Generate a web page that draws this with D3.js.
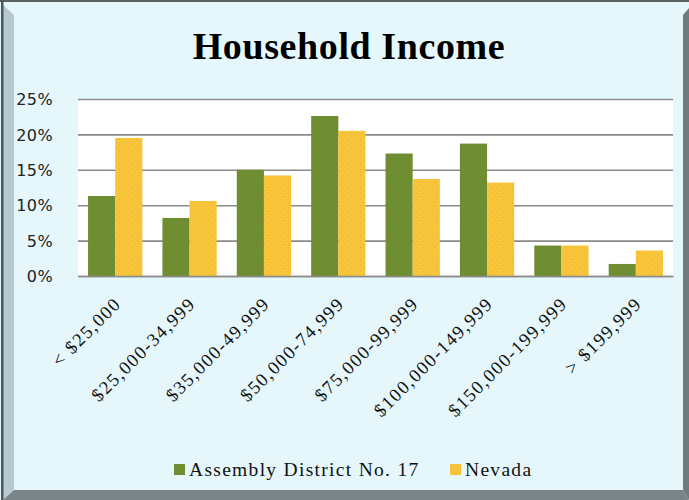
<!DOCTYPE html>
<html>
<head>
<meta charset="utf-8">
<script src="https://cdn.jsdelivr.net/npm/d3@7"></script>
<style>
  html, body { margin: 0; padding: 0; background: #fff; }
  svg { display: block; }
</style>
</head>
<body>
<script>
// household income chart
const W = 689, H = 500;

const categories = ["< $25,000", "$25,000-34,999", "$35,000-49,999", "$50,000-74,999",
                    "$75,000-99,999", "$100,000-149,999", "$150,000-199,999", "> $199,999"];
const seriesNames = ["Assembly District No. 17", "Nevada"];
const district = [11.3, 8.2, 15.0, 22.6, 17.3, 18.7, 4.3, 1.7];
const nevada   = [19.5, 10.6, 14.2, 20.5, 13.7, 13.2, 4.3, 3.6];
const yTicks = [0, 5, 10, 15, 20, 25];

const colors = ["#6d8f31", "#f7c43a"];
const dotColors = ["#9a6a3a", "#d9a23a"];

const plot = { left: 78, right: 673, top: 99, bottom: 276 };

const svg = d3.select("body").append("svg")
    .attr("width", W)
    .attr("height", H);

// patterns to mimic the dithered fills
const defs = svg.append("defs");
colors.forEach((c, i) => {
    const p = defs.append("pattern")
        .attr("id", "pat" + i)
        .attr("width", 6).attr("height", 6)
        .attr("patternUnits", "userSpaceOnUse");
    p.append("rect").attr("width", 6).attr("height", 6).attr("fill", c);
    p.append("rect").attr("x", 1).attr("y", 1).attr("width", 1).attr("height", 1)
        .attr("fill", dotColors[i]).attr("opacity", 0.6);
    p.append("rect").attr("x", 4).attr("y", 4).attr("width", 1).attr("height", 1)
        .attr("fill", dotColors[i]).attr("opacity", 0.5);
});

// ── Frame ──────────────────────────────────────────────────────────────────
svg.append("rect").attr("width", W).attr("height", H).attr("fill", "#e6f7fc");
svg.append("polygon").attr("points", "3,5 14,15 14,490 3,500").attr("fill", "#b6c9d1");
svg.append("polygon").attr("points", "689,8 683,15 683,490 689,500").attr("fill", "#6f7a7d");
svg.append("polygon").attr("points", "3,500 14,490 683,490 689,500").attr("fill", "#798487");
svg.append("rect").attr("x", 0).attr("y", 0).attr("width", W).attr("height", 2).attr("fill", "#59625f");
svg.append("rect").attr("x", 1).attr("y", 0).attr("width", 2.5).attr("height", H).attr("fill", "#4f5759");

// title
svg.append("text")
    .attr("x", 349).attr("y", 59)
    .attr("text-anchor", "middle")
    .attr("font-family", "'Liberation Serif', 'Times New Roman', serif")
    .attr("font-weight", "bold")
    .attr("font-size", 38)
    .attr("letter-spacing", 0.6)
    .attr("fill", "#000")
    .text("Household Income");

// plot area
svg.append("rect")
    .attr("x", plot.left).attr("y", plot.top)
    .attr("width", plot.right - plot.left).attr("height", plot.bottom - plot.top)
    .attr("fill", "#fff");

// ── Scales ─────────────────────────────────────────────────────────────────
const x = d3.scaleBand()
    .domain(categories)
    .range([plot.left, plot.right])
    .paddingInner(0.27)
    .paddingOuter(0.135);

const x1 = d3.scaleBand()
    .domain(seriesNames)
    .range([0, x.bandwidth()]);

const y = d3.scaleLinear()
    .domain([0, 25])
    .range([plot.bottom, plot.top]);

// y axis + gridlines
const yAxis = svg.append("g")
    .attr("transform", `translate(${plot.left},0)`)
    .call(d3.axisLeft(y).tickValues(yTicks).tickSize(-(plot.right - plot.left)).tickPadding(25)
        .tickFormat(d => d + "%"));
yAxis.select(".domain").remove();
yAxis.selectAll(".tick line").attr("stroke", "#8a8a8a").attr("stroke-width", 1.6);
yAxis.selectAll(".tick text")
    .attr("font-family", "'DejaVu Sans', Verdana, sans-serif")
    .attr("font-size", 16)
    .attr("letter-spacing", 0.4)
    .attr("fill", "#222")
    .attr("dy", "0.36em");

// bars
const rows = categories.map((c, i) => ({ cat: c, vals: [district[i], nevada[i]] }));
const groups = svg.append("g").selectAll("g")
    .data(rows)
    .join("g")
    .attr("transform", d => `translate(${x(d.cat)},0)`);

groups.selectAll("rect")
    .data(d => d.vals.map((v, i) => ({ name: seriesNames[i], v, i })))
    .join("rect")
    .attr("x", d => x1(d.name))
    .attr("y", d => y(d.v))
    .attr("width", x1.bandwidth())
    .attr("height", d => y(0) - y(d.v))
    .attr("fill", d => `url(#pat${d.i})`);

// x axis
const xAxis = svg.append("g")
    .attr("transform", `translate(0,${plot.bottom})`)
    .call(d3.axisBottom(x).tickSize(0));
xAxis.select(".domain").attr("stroke", "#8a8a8a").attr("stroke-width", 1.6);
xAxis.selectAll(".tick text")
    .attr("x", 0).attr("y", 0).attr("dy", 0)
    .attr("text-anchor", "end")
    .attr("transform", "translate(7,29) rotate(-45)")
    .attr("font-family", "'Liberation Serif', 'Times New Roman', serif")
    .attr("font-size", 18.5)
    .attr("letter-spacing", 1.5)
    .attr("fill", "#111");

// legend
const legendX = [174, 450];
const legend = svg.append("g").selectAll("g")
    .data(seriesNames)
    .join("g")
    .attr("transform", (d, i) => `translate(${legendX[i]},464)`);
legend.append("rect")
    .attr("width", 11).attr("height", 11)
    .attr("fill", (d, i) => `url(#pat${i})`);
legend.append("text")
    .attr("x", 15).attr("y", 12)
    .attr("font-family", "'Liberation Serif', 'Times New Roman', serif")
    .attr("font-size", 19.5)
    .attr("letter-spacing", 1.3)
    .attr("fill", "#111")
    .text(d => d);
</script>
</body>
</html>
